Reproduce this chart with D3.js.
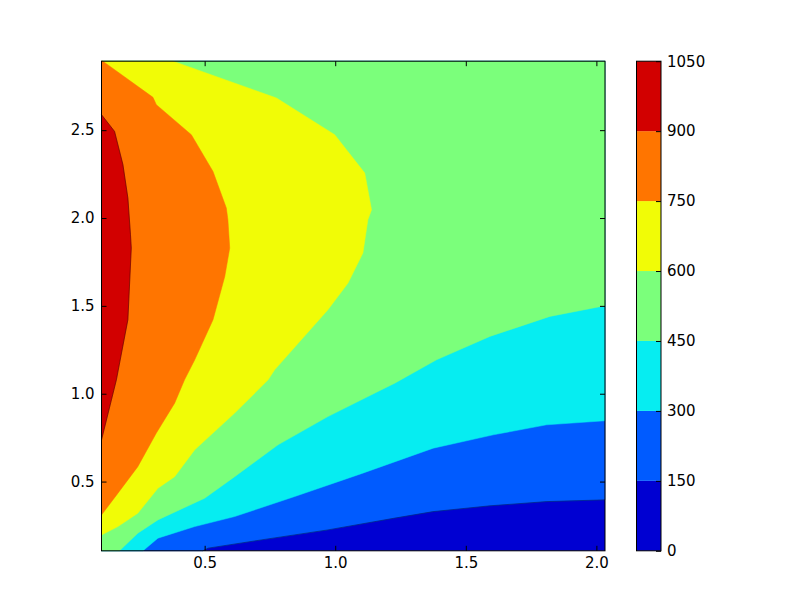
<!DOCTYPE html>
<meta charset="utf-8">
<head>
    <script type="text/javascript" src="https://d3js.org/d3.v7.min.js"></script>
    <style>
        body { margin: 0; background: #fff; }
        text { font-family: "DejaVu Sans", sans-serif; font-size: 15px; fill: #000; }
        .tick line { stroke: #000; stroke-width: 1; }
    </style>
    <title></title>
</head>

<body>
    <script>
        // contour levels and band colours (jet, classic)
        var levels = [0, 150, 300, 450, 600, 750, 900, 1050];
        var colorScheme = ["#0000d2", "#005bff", "#06edf1", "#7bff7b", "#f1fc06", "#ff7500", "#d20000"];

        // data extents + ticks
        var xExtent = [0.105, 2.033];
        var yExtent = [0.106, 2.8925];
        var xTicks = [0.5, 1.0, 1.5, 2.0];
        var yTicks = [0.5, 1.0, 1.5, 2.0, 2.5];

        // contour lines, [x, y] in data units
        var line150 = [[0.493,0.106],[0.513,0.121],[0.717,0.168],[0.972,0.225],[1.228,0.292],[1.375,0.329],[1.592,0.362],[1.809,0.386],[2.033,0.396]];
        var line300 = [[0.264,0.106],[0.321,0.178],[0.462,0.244],[0.615,0.301],[0.845,0.415],[1.100,0.545],[1.375,0.690],[1.605,0.766],[1.809,0.823],[2.033,0.846]];
        var line450 = [[0.174,0.106],[0.244,0.206],[0.321,0.282],[0.500,0.405],[0.615,0.528],[0.781,0.709],[0.972,0.870],[1.164,1.013],[1.228,1.060],[1.388,1.193],[1.592,1.326],[1.822,1.440],[2.033,1.501]];
        var line600 = [[0.105,0.196],[0.168,0.244],[0.244,0.320],[0.321,0.462],[0.385,0.528],[0.462,0.681],[0.615,0.890],[0.743,1.079],[0.768,1.136],[0.870,1.307],[0.972,1.478],[1.049,1.630],[1.106,1.801],[1.125,1.990],[1.139,2.047],[1.113,2.256],[0.998,2.474],[0.775,2.683],[0.379,2.8925]];
        var line750 = [[0.105,0.310],[0.168,0.434],[0.244,0.585],[0.315,0.776],[0.385,0.946],[0.423,1.079],[0.462,1.193],[0.532,1.421],[0.577,1.667],[0.596,1.829],[0.589,1.990],[0.583,2.057],[0.532,2.265],[0.449,2.474],[0.315,2.645],[0.302,2.687],[0.110,2.8925]];
        var line900 = [[0.105,0.737],[0.143,0.965],[0.162,1.079],[0.206,1.421],[0.219,1.829],[0.216,1.905],[0.206,2.114],[0.187,2.304],[0.155,2.493],[0.105,2.588]];

        var contourLines = [line150, line300, line450, line600, line750, line900];
        // which plot corners close the "above level" region
        var closeCorners = [["tr","tl","bl"], ["tr","tl","bl"], ["tr","tl","bl"], ["tl"], ["tl"], []];

        var width = 812, height = 612;
        var plot = {left: 101.5, right: 605, top: 61.2, bottom: 550.8};
        var bar = {left: 636.5, right: 661, top: 61.2, bottom: 550.8};

        var svg = d3.select("body").append("svg")
            .attr("width", width)
            .attr("height", height);

        var x = d3.scaleLinear().domain(xExtent).range([plot.left, plot.right]);
        var y = d3.scaleLinear().domain(yExtent).range([plot.bottom, plot.top]);

        var corner = {
            tl: [xExtent[0], yExtent[1]], tr: [xExtent[1], yExtent[1]],
            bl: [xExtent[0], yExtent[0]], br: [xExtent[1], yExtent[0]]
        };

        var line = d3.line().x(d => x(d[0])).y(d => y(d[1]));

        // lowest band fills the whole plot
        svg.append("rect")
            .attr("x", x(xExtent[0]))
            .attr("y", y(yExtent[1]))
            .attr("width", x(xExtent[1]) - x(xExtent[0]))
            .attr("height", y(yExtent[0]) - y(yExtent[1]))
            .style("fill", colorScheme[0]);

        var bands = svg.append("g").attr("id", "bands");
        for (let i = 0; i < contourLines.length; i++) {
            var pts = contourLines[i].concat(closeCorners[i].map(c => corner[c]));
            bands.append("path")
                .attr("d", line(pts) + "Z")
                .style("fill", colorScheme[i + 1])
                .style("stroke", colorScheme[i + 1])
                .style("stroke-width", 0.5);
        }
        // thin dark edges that show on the outer bands
        [line150, line900].forEach(function(l) {
            bands.append("path")
                .attr("d", line(l))
                .style("fill", "none")
                .style("stroke", "#000")
                .style("stroke-opacity", 0.45)
                .style("stroke-width", 0.8);
        });

        // axes, inward ticks on all four sides
        svg.append("g")
            .attr("transform", "translate(0," + plot.bottom + ")")
            .call(d3.axisBottom(x).tickValues(xTicks).tickSize(-5).tickPadding(7).tickFormat(d3.format(".1f")))
            .call(g => g.select(".domain").remove());
        svg.append("g")
            .attr("transform", "translate(0," + plot.top + ")")
            .call(d3.axisTop(x).tickValues(xTicks).tickSize(-5).tickFormat(""))
            .call(g => g.select(".domain").remove());
        svg.append("g")
            .attr("transform", "translate(" + plot.left + ",0)")
            .call(d3.axisLeft(y).tickValues(yTicks).tickSize(-5).tickPadding(7).tickFormat(d3.format(".1f")))
            .call(g => g.select(".domain").remove());
        svg.append("g")
            .attr("transform", "translate(" + plot.right + ",0)")
            .call(d3.axisRight(y).tickValues(yTicks).tickSize(-5).tickFormat(""))
            .call(g => g.select(".domain").remove());
        svg.selectAll(".tick text").attr("font-family", null).attr("font-size", null);

        svg.append("rect")
            .attr("x", plot.left)
            .attr("y", plot.top)
            .attr("width", plot.right - plot.left)
            .attr("height", plot.bottom - plot.top)
            .style("fill", "none")
            .style("stroke", "#000")
            .style("stroke-width", 1);

        // colorbar
        var cb = d3.scaleLinear().domain([levels[0], levels[levels.length - 1]]).range([bar.bottom, bar.top]);
        var cbar = svg.append("g").attr("id", "colorbar");
        for (let i = 0; i < colorScheme.length; i++) {
            cbar.append("rect")
                .attr("x", bar.left)
                .attr("y", cb(levels[i + 1]))
                .attr("width", bar.right - bar.left)
                .attr("height", cb(levels[i]) - cb(levels[i + 1]))
                .style("fill", colorScheme[i]);
        }
        cbar.append("g")
            .attr("transform", "translate(" + bar.right + ",0)")
            .call(d3.axisRight(cb).tickValues(levels).tickSize(-5).tickPadding(6).tickFormat(d3.format("d")))
            .call(g => g.select(".domain").remove())
            .selectAll("text").attr("font-family", null).attr("font-size", null);
        cbar.append("rect")
            .attr("x", bar.left)
            .attr("y", bar.top)
            .attr("width", bar.right - bar.left)
            .attr("height", bar.bottom - bar.top)
            .style("fill", "none")
            .style("stroke", "#000")
            .style("stroke-width", 1);
    </script>
</body>
</html>
